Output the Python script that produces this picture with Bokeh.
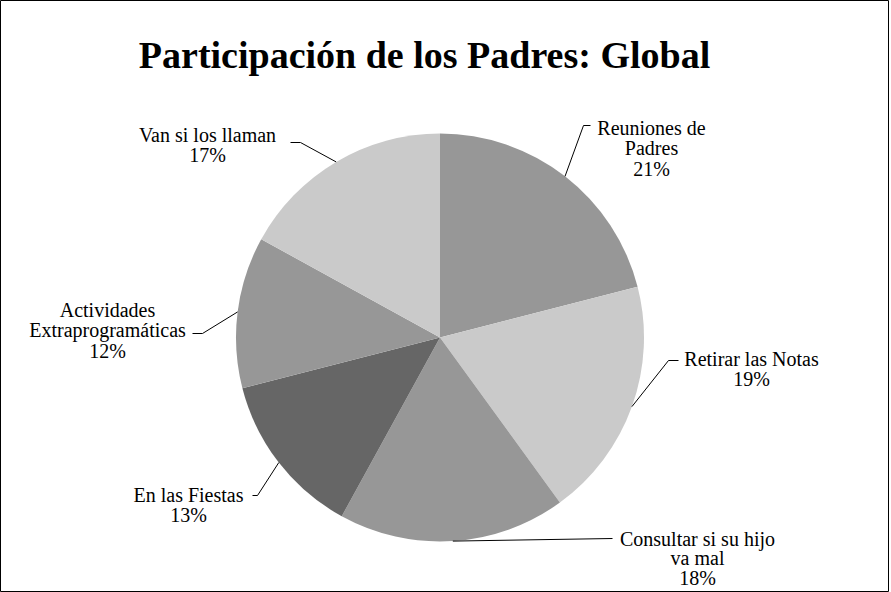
import math
from bokeh.plotting import figure
from bokeh.models import Range1d, Label
from bokeh.embed import file_html
from bokeh.resources import INLINE
from bokeh.core.properties import value

# ---- data ----
title = "Participación de los Padres: Global"
categories = ["Reuniones de\nPadres", "Retirar las Notas", "Consultar si su hijo\nva mal",
              "En las Fiestas", "Actividades\nExtraprogramáticas", "Van si los llaman"]
percents = [21, 19, 18, 13, 12, 17]
colors = ["#979797", "#cacaca", "#979797", "#666666", "#979797", "#cacaca"]

# ---- layout (page pixels) ----
W, H = 889, 592
OFF = 0
def X(px): return px - OFF
def Y(py): return H + OFF - py

CX, CY, R = 439.5, 337, 204
TEXT_SHIFT = -8
# (text center x, first baseline y, elbow x, elbow y, end x, end y, line step)
label_layout = [
    (651, 135, 583, 125, 590, 125, 20.5),
    (751, 366, 668, 360, 678, 360, 20.5),
    (697, 546, 612, 538, 612, 538, 19.5),
    (188, 502, 257, 495, 252, 495, 20.5),
    (107, 317, 202, 333, 192, 333, 20.5),
    (207, 142, 300, 142, 290, 142, 20.5),
]
FONT = "Liberation Serif"

p = figure(width=W, height=H, output_backend="svg", toolbar_location=None,
           x_range=Range1d(0, W), y_range=Range1d(0, H), min_border=0)
p.axis.visible = False
p.grid.visible = False
p.outline_line_color = "black"
p.outline_line_width = 1
p.background_fill_color = "white"
p.border_fill_color = "white"

total = float(sum(percents))
cum = 0.0
starts, ends, mids = [], [], []
for v in percents:
    a0 = cum / total
    cum += v
    a1 = cum / total
    # clockwise from 12 o'clock -> Bokeh anticlock angles
    starts.append(math.radians(90 - a1 * 360))
    ends.append(math.radians(90 - a0 * 360))
    mids.append((a0 + a1) / 2 * 2 * math.pi)

p.wedge(x=[X(CX)] * len(percents), y=[Y(CY)] * len(percents), radius=R,
        start_angle=starts, end_angle=ends, direction="anticlock",
        fill_color=colors, line_color=None)

# leader lines
xs, ys = [], []
for m, lay in zip(mids, label_layout):
    sx = CX + R * math.sin(m)
    sy = CY - R * math.cos(m)
    xs.append([X(sx), X(lay[2]), X(lay[4])])
    ys.append([Y(sy), Y(lay[3]), Y(lay[5])])
p.multi_line(xs=xs, ys=ys, line_color="black", line_width=1)

# labels
tx, ty, tt = [], [], []
for cat, pct, lay in zip(categories, percents, label_layout):
    lines = cat.split("\n") + ["%d%%" % pct]
    for i, ln in enumerate(lines):
        tx.append(X(lay[0]))
        ty.append(Y(lay[1] + TEXT_SHIFT + i * lay[6]))
        tt.append(ln)
p.text(x=tx, y=ty, text=tt, text_align="center", text_baseline="alphabetic",
       text_font=value(FONT), text_font_size="20px", text_color="black")

p.add_layout(Label(x=X(424), y=Y(54), text=title, text_align="center",
                   text_baseline="alphabetic", text_font=FONT,
                   text_font_style="bold", text_font_size="38px", text_color="black"))

open("out.html", "w").write(file_html(p, INLINE))
